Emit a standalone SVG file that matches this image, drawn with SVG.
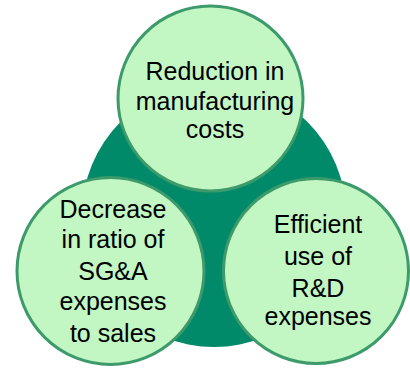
<svg xmlns="http://www.w3.org/2000/svg" width="410" height="369" viewBox="0 0 410 369">
  <style>
    .hub { fill: #018a69; }
    .bubble { fill: #c2f6c2; stroke: #3d9a6a; stroke-width: 3; }
    .label { font-family: "Liberation Sans", Arial, sans-serif; font-size: 25px; fill: #000; text-anchor: middle; }
  </style>
  <rect width="410" height="369" fill="#ffffff"/>
  <!-- central disc behind the three goals -->
  <g id="hub">
    <circle class="hub" cx="214" cy="215" r="132"/>
  </g>
  <g id="manufacturing">
    <circle class="bubble" cx="210.5" cy="98.5" r="92.5"/>
    <text class="label" x="215"><tspan x="215" y="80">Reduction in</tspan><tspan x="215" y="110">manufacturing</tspan><tspan x="215" y="138">costs</tspan></text>
  </g>
  <g id="sga">
    <circle class="bubble" cx="110.5" cy="271" r="93.5"/>
    <text class="label" x="113"><tspan x="113" y="218">Decrease</tspan><tspan x="113" y="248">in ratio of</tspan><tspan x="113" y="280">SG&amp;A</tspan><tspan x="113" y="310">expenses</tspan><tspan x="113" y="342">to sales</tspan></text>
  </g>
  <g id="rnd">
    <circle class="bubble" cx="316" cy="271" r="92.5"/>
    <text class="label" x="318"><tspan x="318" y="233">Efficient</tspan><tspan x="318" y="265">use of</tspan><tspan x="318" y="297">R&amp;D</tspan><tspan x="318" y="325">expenses</tspan></text>
  </g>
  <g id="connectors"/>
</svg>
